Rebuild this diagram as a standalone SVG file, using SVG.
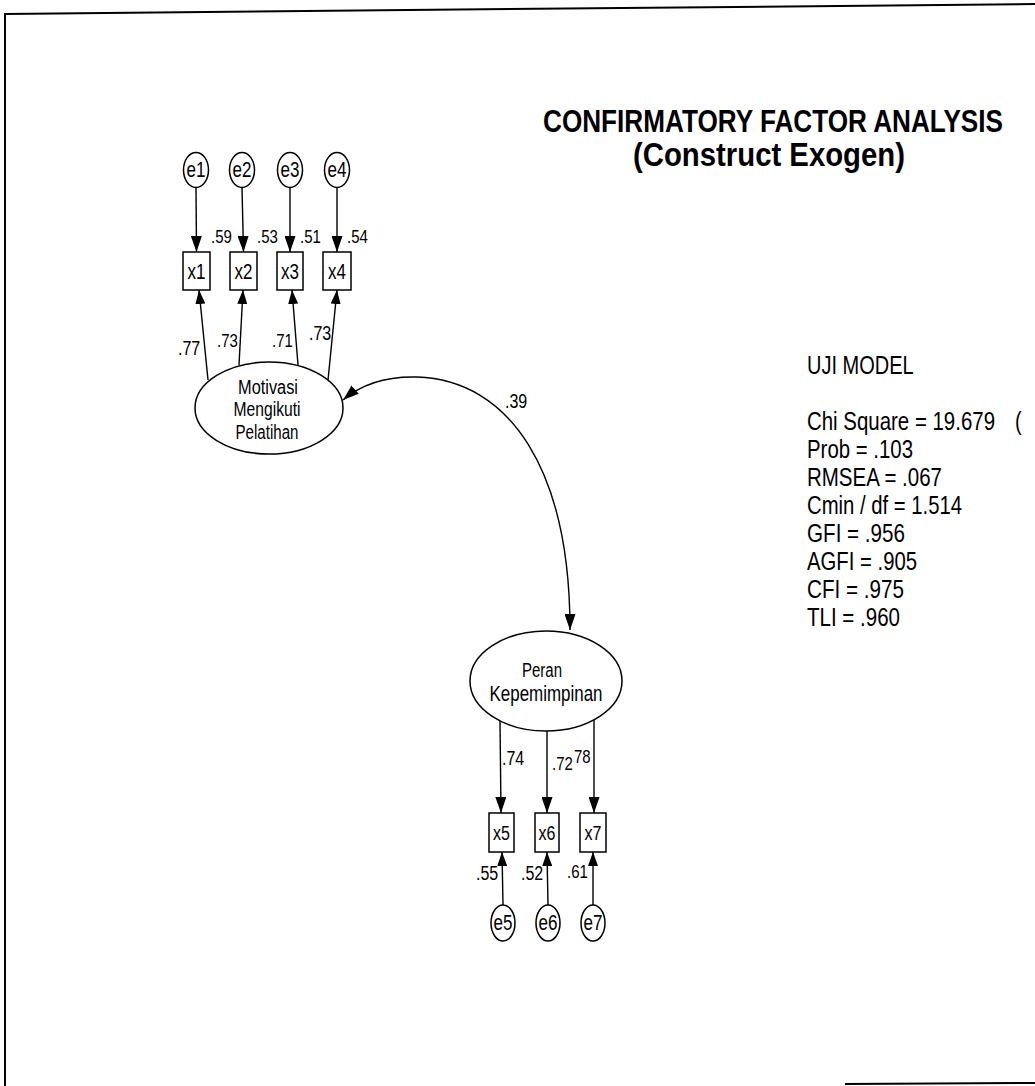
<svg xmlns="http://www.w3.org/2000/svg" width="1035" height="1086" viewBox="0 0 1035 1086">
<style>
.t{font-family:"Liberation Sans",Arial,sans-serif;fill:#000}
.b{font-weight:bold}
.m{text-anchor:middle}
.ln{stroke:#000;stroke-width:1.4;fill:none}
.nd{stroke:#000;stroke-width:1.5;fill:#fff}
.fr{stroke:#000;stroke-width:2;fill:none}
</style>
<defs>
<marker id="ah" viewBox="0 0 16 11" markerWidth="16" markerHeight="11" refX="16" refY="5.5" orient="auto-start-reverse" markerUnits="userSpaceOnUse">
<path d="M0,0 L16,5.5 L0,11 z" fill="#000"/>
</marker>
<marker id="as" viewBox="0 0 14 10" markerWidth="14" markerHeight="10" refX="14" refY="5" orient="auto-start-reverse" markerUnits="userSpaceOnUse">
<path d="M0,0 L14,5 L0,10 z" fill="#000"/>
</marker>
</defs>
<rect x="0" y="0" width="1035" height="1086" fill="#fff"/>
<g id="frame">
<line class="fr" x1="5" y1="14" x2="1035" y2="4"/>
<line class="fr" x1="5" y1="13" x2="5" y2="1086"/>
<line class="fr" x1="845" y1="1084" x2="1035" y2="1083"/>
</g>
<g id="connectors">
<line class="ln" x1="196" y1="188" x2="196.5" y2="252" marker-end="url(#ah)"/>
<line class="ln" x1="242" y1="188" x2="243.5" y2="252" marker-end="url(#ah)"/>
<line class="ln" x1="290" y1="188" x2="290" y2="252" marker-end="url(#ah)"/>
<line class="ln" x1="337" y1="188" x2="337" y2="252" marker-end="url(#ah)"/>
<line class="ln" x1="208" y1="380" x2="199" y2="290" marker-end="url(#as)"/>
<line class="ln" x1="239" y1="365" x2="243" y2="290" marker-end="url(#as)"/>
<line class="ln" x1="298" y1="365" x2="292" y2="290" marker-end="url(#as)"/>
<line class="ln" x1="328" y1="380" x2="337" y2="290" marker-end="url(#as)"/>
<line class="ln" x1="500" y1="721" x2="501" y2="813" marker-end="url(#ah)"/>
<line class="ln" x1="547" y1="731" x2="547" y2="813" marker-end="url(#ah)"/>
<line class="ln" x1="594" y1="720" x2="594" y2="813" marker-end="url(#ah)"/>
<line class="ln" x1="503" y1="905" x2="502" y2="852" marker-end="url(#as)"/>
<line class="ln" x1="548" y1="905" x2="547" y2="852" marker-end="url(#as)"/>
<line class="ln" x1="593" y1="905" x2="593" y2="852" marker-end="url(#as)"/>
<path class="ln" d="M570,630 C570,470 510,380 417,377 C380,376 357,388 343,400" marker-start="url(#ah)" marker-end="url(#ah)"/>
</g>
<g id="e1"><ellipse class="nd" cx="196" cy="170" rx="12.5" ry="17.5"/><text class="t m" transform="translate(196,177) scale(1,1.25)" font-size="17">e1</text></g>
<g id="e2"><ellipse class="nd" cx="242" cy="170" rx="12.5" ry="17.5"/><text class="t m" transform="translate(242,177) scale(1,1.25)" font-size="17">e2</text></g>
<g id="e3"><ellipse class="nd" cx="290" cy="170" rx="12.5" ry="17.5"/><text class="t m" transform="translate(290,177) scale(1,1.25)" font-size="17">e3</text></g>
<g id="e4"><ellipse class="nd" cx="337" cy="170" rx="12.5" ry="17.5"/><text class="t m" transform="translate(337,177) scale(1,1.25)" font-size="17">e4</text></g>
<g id="x1"><rect class="nd" x="183" y="252" width="27" height="38"/><text class="t m" transform="translate(196.5,279) scale(1,1.25)" font-size="17">x1</text></g>
<g id="x2"><rect class="nd" x="230" y="252" width="27" height="38"/><text class="t m" transform="translate(243.5,279) scale(1,1.25)" font-size="17">x2</text></g>
<g id="x3"><rect class="nd" x="277" y="252" width="26" height="38"/><text class="t m" transform="translate(290,279) scale(1,1.25)" font-size="17">x3</text></g>
<g id="x4"><rect class="nd" x="323" y="252" width="28" height="38"/><text class="t m" transform="translate(337,279) scale(1,1.25)" font-size="17">x4</text></g>
<g id="motivasi"><ellipse class="nd" cx="269" cy="408" rx="74" ry="46"/>
<text class="t m" transform="translate(268,394) scale(1,1.25)" font-size="16" textLength="60" lengthAdjust="spacingAndGlyphs">Motivasi</text>
<text class="t m" transform="translate(267,416) scale(1,1.25)" font-size="16" textLength="67" lengthAdjust="spacingAndGlyphs">Mengikuti</text>
<text class="t m" transform="translate(267,439) scale(1,1.25)" font-size="16" textLength="63" lengthAdjust="spacingAndGlyphs">Pelatihan</text></g>
<g id="peran"><ellipse class="nd" cx="546" cy="681" rx="76" ry="50"/>
<text class="t m" transform="translate(542,677) scale(1,1.25)" font-size="16" textLength="40" lengthAdjust="spacingAndGlyphs">Peran</text>
<text class="t m" transform="translate(546,701) scale(1,1.25)" font-size="17" textLength="113" lengthAdjust="spacingAndGlyphs">Kepemimpinan</text></g>
<g id="x5"><rect class="nd" x="489" y="813" width="25" height="39"/><text class="t m" transform="translate(501.5,840) scale(1,1.25)" font-size="16">x5</text></g>
<g id="x6"><rect class="nd" x="535" y="813" width="24" height="39"/><text class="t m" transform="translate(547,840) scale(1,1.25)" font-size="16">x6</text></g>
<g id="x7"><rect class="nd" x="580" y="813" width="26" height="39"/><text class="t m" transform="translate(593,840) scale(1,1.25)" font-size="16">x7</text></g>
<g id="e5"><ellipse class="nd" cx="503" cy="923" rx="12" ry="18"/><text class="t m" transform="translate(503,930) scale(1,1.25)" font-size="17">e5</text></g>
<g id="e6"><ellipse class="nd" cx="548" cy="923" rx="12" ry="18"/><text class="t m" transform="translate(548,930) scale(1,1.25)" font-size="17">e6</text></g>
<g id="e7"><ellipse class="nd" cx="593" cy="923" rx="12" ry="18"/><text class="t m" transform="translate(593,930) scale(1,1.25)" font-size="17">e7</text></g>
<g id="labels" class="t" font-size="15">
<text transform="translate(211,243) scale(1,1.25)">.59</text>
<text transform="translate(257,243) scale(1,1.25)">.53</text>
<text transform="translate(300,243) scale(1,1.25)">.51</text>
<text transform="translate(347,243) scale(1,1.25)">.54</text>
<text transform="translate(178,355) scale(1,1.25)" font-size="16">.77</text>
<text transform="translate(217,347) scale(1,1.25)">.73</text>
<text transform="translate(272,347) scale(1,1.25)">.71</text>
<text transform="translate(309,340) scale(1,1.25)" font-size="16">.73</text>
<text transform="translate(505,408) scale(1,1.25)" font-size="16">.39</text>
<text transform="translate(502,765) scale(1,1.25)" font-size="16">.74</text>
<text transform="translate(552,770) scale(1,1.25)">.72</text>
<text transform="translate(574,763) scale(1,1.25)">78</text>
<text transform="translate(476,880) scale(1,1.25)" font-size="16">.55</text>
<text transform="translate(521,880) scale(1,1.25)" font-size="16">.52</text>
<text transform="translate(567,878) scale(1,1.25)">.61</text>
</g>
<g id="title" class="t b">
<text transform="translate(543,132) scale(1,1.2)" font-size="25.5" textLength="460" lengthAdjust="spacingAndGlyphs">CONFIRMATORY FACTOR ANALYSIS</text>
<text transform="translate(633,166) scale(1,1.2)" font-size="28" textLength="272" lengthAdjust="spacingAndGlyphs">(Construct Exogen)</text>
</g>
<g id="uji-model" class="t" font-size="20">
<text transform="translate(807,374) scale(1,1.25)">UJI MODEL</text>
<text transform="translate(807,430) scale(1,1.25)" textLength="188" lengthAdjust="spacingAndGlyphs">Chi Square = 19.679</text>
<text transform="translate(1015,430) scale(1,1.25)">(</text>
<text transform="translate(807,458) scale(1,1.25)" textLength="106" lengthAdjust="spacingAndGlyphs">Prob = .103</text>
<text transform="translate(807,486) scale(1,1.25)" textLength="135" lengthAdjust="spacingAndGlyphs">RMSEA = .067</text>
<text transform="translate(807,514) scale(1,1.25)" textLength="155" lengthAdjust="spacingAndGlyphs">Cmin / df = 1.514</text>
<text transform="translate(807,542) scale(1,1.25)" textLength="98" lengthAdjust="spacingAndGlyphs">GFI = .956</text>
<text transform="translate(807,570) scale(1,1.25)" textLength="110" lengthAdjust="spacingAndGlyphs">AGFI = .905</text>
<text transform="translate(807,598) scale(1,1.25)" textLength="97" lengthAdjust="spacingAndGlyphs">CFI = .975</text>
<text transform="translate(807,626) scale(1,1.25)" textLength="93" lengthAdjust="spacingAndGlyphs">TLI = .960</text>
</g>
</svg>
